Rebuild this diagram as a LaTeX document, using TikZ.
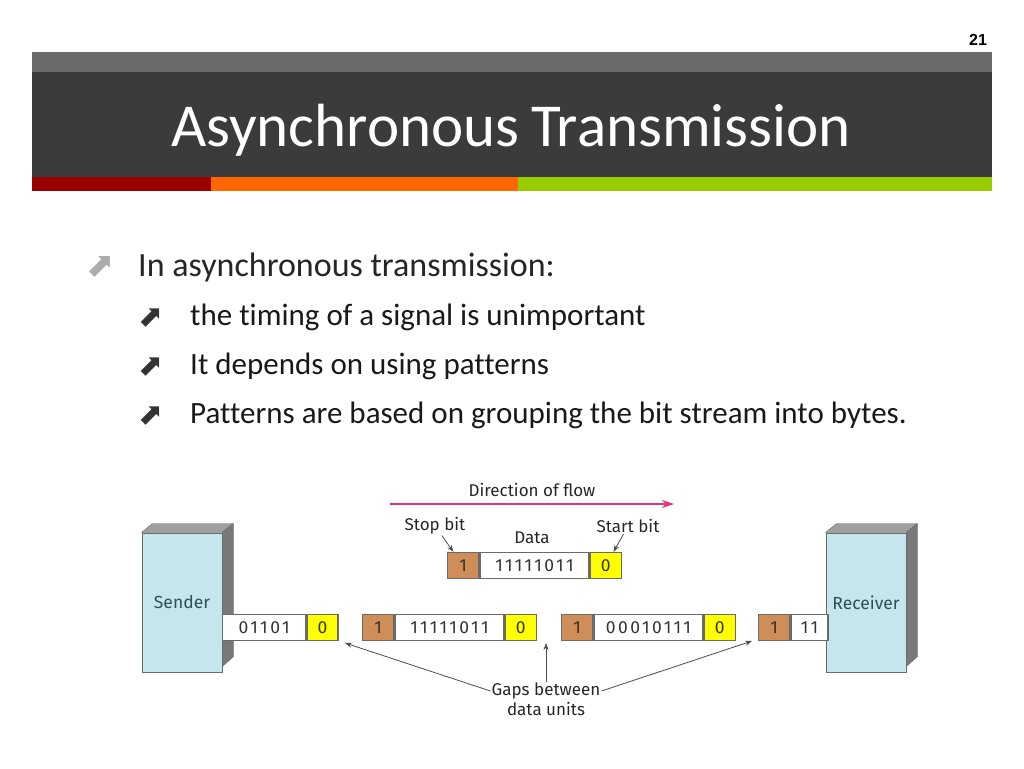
\documentclass[tikz,border=0pt]{standalone}
\usepackage{fontspec}
\setmainfont[Ligatures={NoCommon}]{Carlito}
\newfontfamily\figfont{Fira Sans}
\newfontfamily\bitfont[LetterSpace=14]{Fira Sans}
\newfontfamily\numfont{Liberation Sans}
\newfontfamily\symfont{DejaVu Sans}
\usetikzlibrary{arrows.meta,positioning}
\definecolor{topgray}{HTML}{6B6B6B}
\definecolor{bandgray}{HTML}{3B3B3B}
\definecolor{stripred}{HTML}{990000}
\definecolor{striporange}{HTML}{FF6600}
\definecolor{stripgreen}{HTML}{99CC00}
\definecolor{stopbrown}{HTML}{CF8E58}
\definecolor{startyellow}{HTML}{FFFF00}
\definecolor{framegray}{HTML}{6A6A6A}
\definecolor{stationblue}{HTML}{C6E6EE}
\definecolor{flowpink}{HTML}{E0357E}
\definecolor{labelteal}{HTML}{2E4F55}

\begin{document}
\begin{tikzpicture}[
    x=1pt, y=-1pt,
    cell/.style={draw=framegray, line width=1.3pt, minimum height=26pt,
        inner sep=0pt, anchor=west, text=black!80,
        font=\figfont\fontsize{17.5}{17.5}\selectfont},
    stopcell/.style={cell, fill=stopbrown, minimum width=31pt},
    startcell/.style={cell, fill=startyellow, minimum width=31pt},
    datacell/.style={cell, fill=white, font=\bitfont\fontsize{17.5}{17.5}\selectfont},
    station/.style={draw=framegray, line width=1pt, fill=stationblue,
        minimum width=80pt, minimum height=139pt, inner sep=0pt,
        text=labelteal, font=\figfont\fontsize{17.5}{17.5}\selectfont},
    label/.style={inner sep=1pt, text=black!85,
        font=\figfont\fontsize{17}{17}\selectfont},
    arrow/.style={-{Stealth[length=7pt,width=5pt]}, line width=0.8pt,
        draw=black!70},
    flow/.style={-{Stealth[length=12pt,width=8pt]}, line width=1.6pt,
        draw=flowpink},
    bulletone/.style={anchor=base west, inner sep=0pt, text=gray!65,
        font=\symfont\fontsize{34}{34}\selectfont},
    bullettwo/.style={anchor=base west, inner sep=0pt, text=black!80,
        font=\symfont\fontsize{30}{30}\selectfont},
    itemone/.style={anchor=base west, inner sep=0pt, text=black!85,
        font=\fontsize{34}{34}\selectfont},
    itemtwo/.style={anchor=base west, inner sep=0pt, text=black!90,
        font=\fontsize{31}{31}\selectfont},
]
\useasboundingbox (0,0) rectangle (1024,768);

% Header
\fill[topgray] (32,52) rectangle (992,72);
\fill[bandgray] (32,72) rectangle (992,177);
\fill[stripred] (32,177) rectangle (211,191);
\fill[striporange] (211,177) rectangle (518,191);
\fill[stripgreen] (518,177) rectangle (992,191);
\node[font=\numfont\bfseries\fontsize{16}{16}\selectfont] (pageno) at (978,40) {21};
\node[anchor=base, text=white, font=\fontsize{61}{61}\selectfont] (title) at (511,146)
    {Asynchronous\hspace{-2pt} Transmission};

% Bullets
\node[bulletone] (b1) at (86,276) {⬈};
\node[itemone] (i1) at (138,276) {In asynchronous transmission:};
\node[bullettwo] (b2) at (138,326) {⬈};
\node[itemtwo] (i2) at (190,325) {the timing of a signal is unimportant};
\node[bullettwo] (b3) at (138,375) {⬈};
\node[itemtwo] (i3) at (190,374) {It depends on using patterns};
\node[bullettwo] (b4) at (138,424) {⬈};
\node[itemtwo] (i4) at (190,423) {Patterns are based on grouping the bit stream into bytes.};

% Direction of flow
\node[label] (flowlbl) at (532,490) {Direction of flow};
\coordinate (flowL) at (390,504);
\coordinate (flowR) at (674,504);
\draw[flow] (flowL) -- (flowR);

% Single frame
\node[stopcell] (t1) at (447,565.5) {1};
\node[datacell, minimum width=109pt] (t2) at (t1.east) {11111011};
\node[startcell] (t3) at (t2.east) {0};
\node[label] (stoplbl) at (435,526) {Stop bit};
\node[label] (datalbl) at (532,538) {Data};
\node[label] (startlbl) at (628,526) {Start bit};
\draw[arrow] (stoplbl) -- (t1);
\draw[arrow] (startlbl) -- (t3);

% Sender and receiver
\node[station] (sender) at (182,602.5) {Sender};
\fill[gray!75, draw=framegray] (sender.north west) -- ++(11,-9) -- ++(80,0)
    -- (sender.north east) -- cycle;
\fill[gray!95!black, draw=framegray] (sender.north east) -- ++(11,-9) -- ++(0,133)
    -- ([yshift=6pt]sender.south east) -- cycle;
\node[station] (receiver) at (866,602.5) {Receiver};
\fill[gray!75, draw=framegray] (receiver.north west) -- ++(11,-9) -- ++(80,0)
    -- (receiver.north east) -- cycle;
\fill[gray!95!black, draw=framegray] (receiver.north east) -- ++(11,-9) -- ++(0,133)
    -- ([yshift=6pt]receiver.south east) -- cycle;

% Stream of frames
\node[datacell, minimum width=83pt] (s1) at (222,627.5) {01101};
\node[startcell] (s2) at (s1.east) {0};
\node[stopcell] (f1) at (362,627.5) {1};
\node[datacell, minimum width=109pt] (f2) at (f1.east) {11111011};
\node[startcell] (f3) at (f2.east) {0};
\node[stopcell] (g1) at (561,627.5) {1};
\node[datacell, minimum width=109pt] (g2) at (g1.east) {00010111};
\node[startcell] (g3) at (g2.east) {0};
\node[stopcell] (r1) at (758,627.5) {1};
\node[datacell, minimum width=37pt] (r2) at (r1.east) {11\hspace{6pt}};

% Gaps
\node[label] (gapsa) at (546,691) {Gaps between};
\node[label] (gapsb) at (546,709) {data units};
\coordinate (gap1) at (345,643);
\coordinate (gap2) at (546,643);
\coordinate (gap3) at (752,641);
\draw[arrow] (gapsa.west) -- (gap1);
\draw[arrow] (gapsa.north) -- (gap2);
\draw[arrow] (gapsa.east) -- (gap3);

\end{tikzpicture}
\end{document}
